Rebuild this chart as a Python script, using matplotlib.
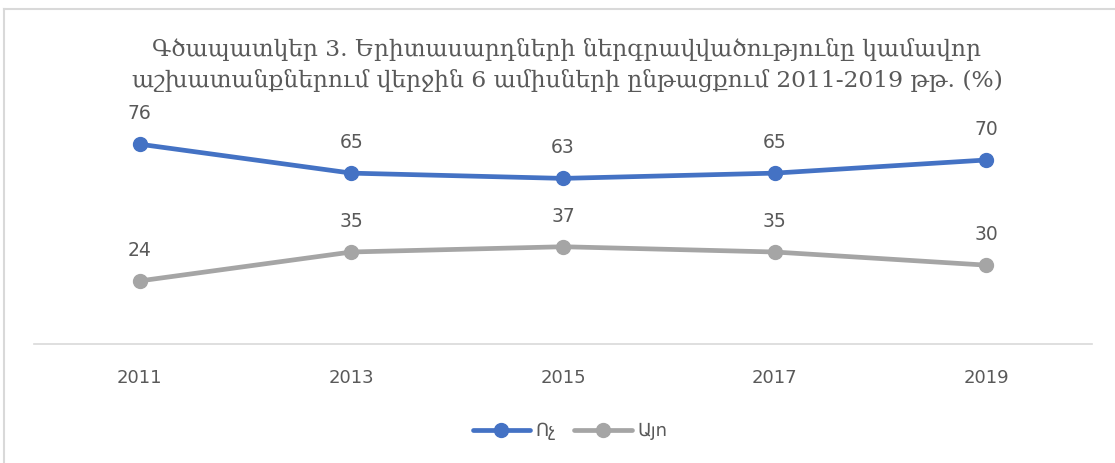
import matplotlib
matplotlib.use("Agg")
import matplotlib.pyplot as plt
from matplotlib.lines import Line2D

years = ["2011", "2013", "2015", "2017", "2019"]
no_vals = [76, 65, 63, 65, 70]
yes_vals = [24, 35, 37, 35, 30]
labels = ["Ոչ", "Այո"]
title = ("Գծապատկեր 3. Երիտասարդների ներգրավվածությունը կամավոր\n"
         "աշխատանքներում վերջին 6 ամիսների ընթացքում 2011-2019 թթ. (%)")

plt.rcParams["font.family"] = ["DejaVu Sans"]
text_color = "#595959"
colors = ["#4472C4", "#A5A5A5"]

W, H = 1115, 463
fig = plt.figure(figsize=(W / 100, H / 100), dpi=100)
ax = fig.add_axes([34 / W, 1 - 344 / H, 1058 / W, (344 - 133.7) / H])

x = list(range(len(years)))
for vals, lab, c in zip([no_vals, yes_vals], labels, colors):
    ax.plot(x, vals, color=c, linewidth=3.4, marker="o", markersize=10,
            label=lab, solid_capstyle="round")
    for xi, v in zip(x, vals):
        ax.annotate(str(v), (xi, v), xytext=(0, 22), textcoords="offset points",
                    ha="center", va="center", fontsize=13.5, color=text_color)

ax.set_xlim(-0.5, len(years) - 0.5)
ax.set_ylim(0, 80)
ax.set_xticks(x)
ax.set_xticklabels(years, fontsize=13, color=text_color)
ax.tick_params(axis="x", length=0, pad=18)
ax.set_yticks([])
for s in ["top", "right", "left"]:
    ax.spines[s].set_visible(False)
ax.spines["bottom"].set_color("#D9D9D9")
ax.spines["bottom"].set_linewidth(1.2)

fig.text(567 / W, 1 - 65 / H, title, ha="center", va="center", fontsize=16.8,
         color=text_color, family=["DejaVu Serif", "DejaVu Sans"], linespacing=1.45)

fig.legend(loc="center", bbox_to_anchor=(570 / W, 1 - 431 / H), ncol=2,
           frameon=False, fontsize=13, labelcolor=text_color, handlelength=3.2,
           columnspacing=1.0, handletextpad=0.3)

# chart border
fig.add_artist(Line2D([4 / W, 4 / W], [0, 1 - 9 / H], color="#D9D9D9", linewidth=1.5,
                      transform=fig.transFigure))
fig.add_artist(Line2D([4 / W, 1], [1 - 9 / H, 1 - 9 / H], color="#D9D9D9", linewidth=1.5,
                      transform=fig.transFigure))

fig.savefig("out.png", dpi=100)
